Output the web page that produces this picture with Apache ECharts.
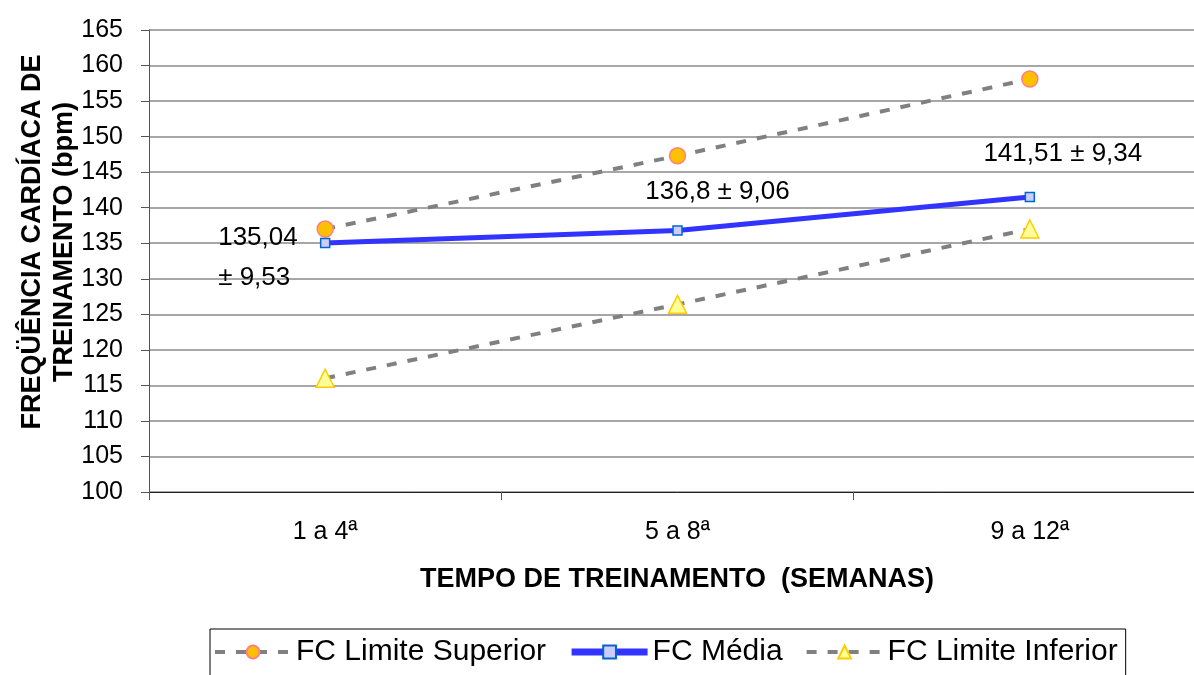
<!DOCTYPE html>
<html>
<head>
<meta charset="utf-8">
<script src="https://cdn.jsdelivr.net/npm/echarts@6/dist/echarts.min.js"></script>
<style>
  html, body { margin: 0; padding: 0; background: #fff; overflow: hidden; }
  /* plot area runs slightly past the right edge of the window */
  #chart { width: 1207px; height: 675px; }
</style>
</head>
<body>
<div id="chart"></div>
<script>
// Training weeks and heart-rate values (bpm)
const categories = ['1 a 4ª', '5 a 8ª', '9 a 12ª'];
const fcSuperior = [137.0, 147.3, 158.1];
const fcMedia = [135.04, 136.8, 141.51];
const fcInferior = [116.0, 126.4, 137.0];
const fcDesvio = ['9,53', '9,06', '9,34'];
const fcMediaTexto = ['135,04', '136,8', '141,51'];
const yTicks = { min: 100, max: 165, step: 5 };

const FONT = 'Liberation Sans, Arial, sans-serif';

// Per-point placement of the mean ± SD labels
const labelLayouts = [
  { align: 'left', offset: [-107, 15], text: fcMediaTexto[0] + '\n± ' + fcDesvio[0] },
  { align: 'center', offset: [40, -39], text: fcMediaTexto[1] + ' ± ' + fcDesvio[1] },
  { align: 'center', offset: [33, -43], text: fcMediaTexto[2] + ' ± ' + fcDesvio[2] }
];

const mediaData = fcMedia.map((v, i) => ({
  value: v,
  label: {
    show: true,
    position: 'inside',
    formatter: labelLayouts[i].text,
    align: labelLayouts[i].align,
    verticalAlign: 'middle',
    offset: labelLayouts[i].offset,
    lineHeight: 40,
    fontSize: 26,
    fontFamily: FONT,
    color: '#000'
  }
}));

const chart = echarts.init(document.getElementById('chart'), null, { renderer: 'canvas' });

const dashed = [10, 11];

chart.setOption({
  animation: false,
  backgroundColor: '#fff',
  textStyle: { fontFamily: FONT },
  grid: { left: 149, top: 30, width: 1057, height: 462, containLabel: false },
  xAxis: {
    type: 'category',
    data: categories,
    boundaryGap: true,
    axisLine: { lineStyle: { color: '#222', width: 1 } },
    axisTick: { show: true, length: 8, inside: false, lineStyle: { color: '#555' } },
    axisLabel: { fontSize: 25, color: '#000', margin: 28, fontFamily: FONT },
    splitLine: { show: false }
  },
  yAxis: {
    type: 'value',
    min: yTicks.min,
    max: yTicks.max,
    interval: yTicks.step,
    axisLine: { show: true, lineStyle: { color: '#555', width: 1 } },
    axisTick: { show: true, length: 8, lineStyle: { color: '#555' } },
    axisLabel: { fontSize: 25, color: '#000', margin: 26, fontFamily: FONT },
    splitLine: { show: true, lineStyle: { color: '#8a8a8a', width: 1.5 } }
  },
  legend: {
    left: 210,
    top: 629,
    padding: [8, 8, 12, 3],
    borderColor: '#000',
    borderWidth: 1,
    itemWidth: 76,
    itemHeight: 16,
    itemGap: 22,
    textStyle: { fontSize: 30, color: '#000', fontFamily: FONT },
    data: [
      { name: 'FC Limite Superior', lineStyle: { width: 4, type: dashed } },
      { name: 'FC Média', lineStyle: { width: 7 } },
      { name: 'FC Limite Inferior', lineStyle: { width: 4, type: dashed } }
    ]
  },
  graphic: [
    {
      type: 'text',
      x: 33, y: 242, rotation: Math.PI / 2,
      style: {
        text: 'FREQÜÊNCIA CARDÍACA DE',
        font: 'bold 27px ' + FONT,
        fill: '#000', align: 'center', verticalAlign: 'middle'
      }
    },
    {
      type: 'text',
      x: 65, y: 242, rotation: Math.PI / 2,
      style: {
        text: 'TREINAMENTO (bpm)',
        font: 'bold 27px ' + FONT,
        fill: '#000', align: 'center', verticalAlign: 'middle'
      }
    },
    {
      type: 'text',
      x: 677, y: 580,
      style: {
        text: 'TEMPO DE TREINAMENTO  (SEMANAS)',
        font: 'bold 27px ' + FONT,
        fill: '#000', align: 'center', verticalAlign: 'middle'
      }
    }
  ],
  series: [
    {
      name: 'FC Limite Superior',
      type: 'line',
      data: fcSuperior,
      symbol: 'circle',
      symbolSize: 16,
      itemStyle: { color: '#FFC000', borderColor: '#FF8080', borderWidth: 1.5 },
      lineStyle: { color: '#808080', width: 4, type: dashed },
      z: 2
    },
    {
      name: 'FC Média',
      type: 'line',
      data: mediaData,
      symbol: 'rect',
      symbolSize: 9,
      itemStyle: { color: '#CCCCFF', borderColor: '#0066CC', borderWidth: 1.5 },
      lineStyle: { color: '#3333FF', width: 5 },
      z: 3
    },
    {
      name: 'FC Limite Inferior',
      type: 'line',
      data: fcInferior,
      symbol: 'triangle',
      symbolSize: 18,
      itemStyle: { color: '#FFFF99', borderColor: '#FFCC00', borderWidth: 1.5 },
      lineStyle: { color: '#808080', width: 4, type: dashed },
      z: 2
    }
  ]
});
</script>
</body>
</html>
